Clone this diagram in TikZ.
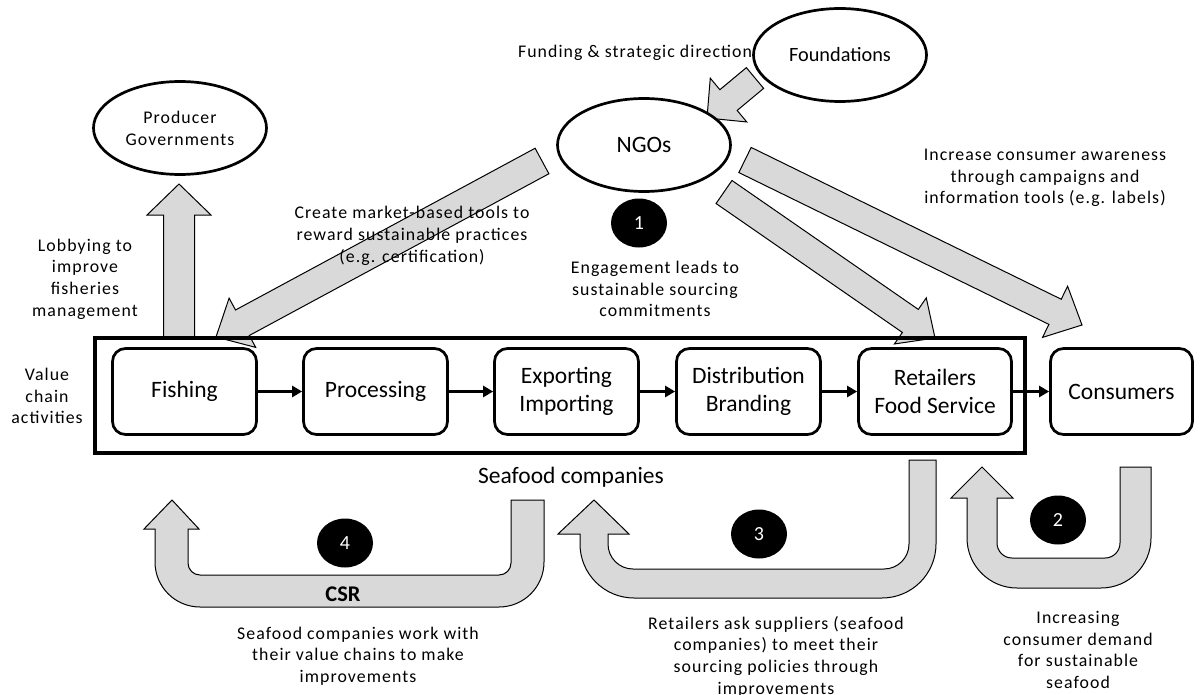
\documentclass[tikz,border=0pt]{standalone}
\usepackage{fontspec}
\setmainfont{Carlito}
\newfontfamily\lblfont[LetterSpace=6]{Carlito}
\usetikzlibrary{shapes.geometric,arrows.meta,calc}
\pgfdeclarelayer{back}
\pgfsetlayers{back,main}
\definecolor{arrowgray}{HTML}{D9D9D9}

% straight block arrow: tail, tip, half shaft width, half head width, head length
\newcommand{\blkarrow}[5]{%
  \coordinate (ba-h) at ($(#2)!#5!(#1)$);
  \path[blk] ($(#1)!#3!90:(#2)$) -- ($(ba-h)!#3!90:(#2)$) -- ($(ba-h)!#4!90:(#2)$)
    -- (#2) -- ($(ba-h)!#4!-90:(#2)$) -- ($(ba-h)!#3!-90:(#2)$) -- ($(#1)!#3!-90:(#2)$) -- cycle;}

\begin{document}
\begin{tikzpicture}[x=1pt,y=-1pt,
  blk/.style={fill=arrowgray, draw=black, line width=1pt, line join=miter},
  stage/.style={draw, line width=2.7pt, rounded corners=13pt, fill=white,
    minimum width=144pt, minimum height=86pt, inner sep=0pt, align=center,
    font=\fontsize{23.5}{28.5}\selectfont},
  actor/.style={draw, ellipse, line width=2.7pt, fill=white,
    minimum width=173pt, minimum height=93pt, inner sep=0pt, align=center},
  lbl/.style={font=\lblfont\fontsize{17.8}{21.7}\selectfont, align=center, inner sep=0pt},
  badge/.style={ellipse, fill=black, minimum width=56pt, minimum height=49pt,
    inner sep=0pt, text=white, font=\fontsize{20}{24}\selectfont},
  flow/.style={line width=3pt, -{Triangle[length=10pt,width=11pt]}},
]
\useasboundingbox (0,0) rectangle (1201,695);

% seafood company frame and value chain stages
\node[draw, line width=3.5pt, minimum width=930pt, minimum height=115pt, inner sep=0pt] (chain) at (560,395.5) {};
\node[stage] (fish) at (184.5,391.5) {Fishing};
\node[stage] (proc) at (375.5,391.5) {Processing};
\node[stage] (expo) at (566.5,391.5) {Exporting\\Importing};
\node[stage] (dist) at (748.5,391.5) {Distribution\\Branding};
\node[stage, minimum width=153pt] (retl) at (935,391.5) {Retailers\\Food Service};
\node[stage, minimum width=142pt] (cons) at (1121.5,391.5) {Consumers};

\draw[flow] (fish) -- (proc);
\draw[flow] (proc) -- (expo);
\draw[flow] (expo) -- (dist);
\draw[flow] (dist) -- (retl);
\draw[flow] (retl) -- (cons);

% actors
\node[actor, font=\lblfont\fontsize{17.8}{22}\selectfont] (gov) at (180,128) {Producer\\Governments};
\node[actor, font=\fontsize{23.5}{28}\selectfont] (ngo) at (644,145) {NGOs};
\node[actor, font=\fontsize{20.3}{24}\selectfont] (fnd) at (840,55) {Foundations};

% block arrow end points
\coordinate (govTail) at (179,338);
\coordinate (govTip) at (179,184);
\coordinate (fndTail) at (755,78);
\coordinate (ngoTip) at (707,118);
\coordinate (ngoFishTail) at (542,161);
\coordinate (fishTip) at (216,337);
\coordinate (ngoRetlTail) at (724,192);
\coordinate (retlTip) at (935,338);
\coordinate (ngoConsTail) at (745,160);
\coordinate (consTip) at (1082,325);

\begin{pgfonlayer}{back}
  \blkarrow{govTail}{govTip}{15.5pt}{32pt}{31pt}
  \blkarrow{fndTail}{ngoTip}{13.5pt}{28.5pt}{28pt}
  \blkarrow{ngoFishTail}{fishTip}{14.5pt}{28pt}{30pt}
  \blkarrow{ngoRetlTail}{retlTip}{14pt}{28pt}{30pt}
  \blkarrow{ngoConsTail}{consTip}{14pt}{28.5pt}{30pt}
\end{pgfonlayer}

% U-turn arrows below the chain
\path[blk] (172,500) -- (199,529) -- (188,529) -- (188,563)
  arc[start angle=180, end angle=90, radius=12] -- (499,575)
  arc[start angle=90, end angle=0, radius=12] -- (511,500) -- (544,500) -- (544,562)
  arc[start angle=0, end angle=90, radius=45] -- (200,607)
  arc[start angle=90, end angle=180, radius=45] -- (155,529) -- (144,529) -- cycle;
\path[blk] (594,500) -- (629,534) -- (608,534) -- (608,544)
  arc[start angle=180, end angle=90, radius=25] -- (884,569)
  arc[start angle=90, end angle=0, radius=25] -- (909,460) -- (936,460) -- (936,544)
  arc[start angle=0, end angle=90, radius=54] -- (634,598)
  arc[start angle=90, end angle=180, radius=54] -- (580,534) -- (558,534) -- cycle;
\path[blk] (982,467) -- (1013,498) -- (997,498) -- (997,543)
  arc[start angle=180, end angle=90, radius=15] -- (1105,558)
  arc[start angle=90, end angle=0, radius=15] -- (1120,467) -- (1151,467) -- (1151,538)
  arc[start angle=0, end angle=90, radius=50] -- (1017,588)
  arc[start angle=90, end angle=180, radius=50] -- (967,498) -- (951,498) -- cycle;

% numbered badges
\node[badge] (b1) at (639,223) {1};
\node[badge] (b2) at (1058,520) {2};
\node[badge] (b3) at (759,534) {3};
\node[badge] (b4) at (345,543) {4};

% labels
\node[lbl] (lobby) at (85,279) {Lobbying to\\improve\\fisheries\\management};
\node[lbl] (mkt) at (412,236) {Create market-based tools to\\reward sustainable practices\\(e.g. certification)};
\node[lbl] (fund) at (635,53) {Funding \& strategic direction};
\node[lbl] (eng) at (655,289) {Engagement leads to\\sustainable sourcing\\commitments};
\node[lbl] (aware) at (1045,178) {Increase consumer awareness\\through campaigns and\\information tools (e.g. labels)};
\node[lbl] (vca) at (47,396) {Value\\chain\\activities};
\node[font=\fontsize{23.5}{28}\selectfont, inner sep=0pt] (sfc) at (571,477) {Seafood companies};
\node[font=\bfseries\fontsize{22.4}{27}\selectfont, inner sep=0pt] (csr) at (343,594) {CSR};
\node[lbl] (csrtxt) at (358,656) {Seafood companies work with\\their value chains to make\\improvements};
\node[lbl] (rtxt) at (776,656.5) {Retailers ask suppliers (seafood\\companies) to meet their\\sourcing policies through\\improvements};
\node[lbl] (dtxt) at (1078,650) {Increasing\\consumer demand\\for sustainable\\seafood};
\end{tikzpicture}
\end{document}
